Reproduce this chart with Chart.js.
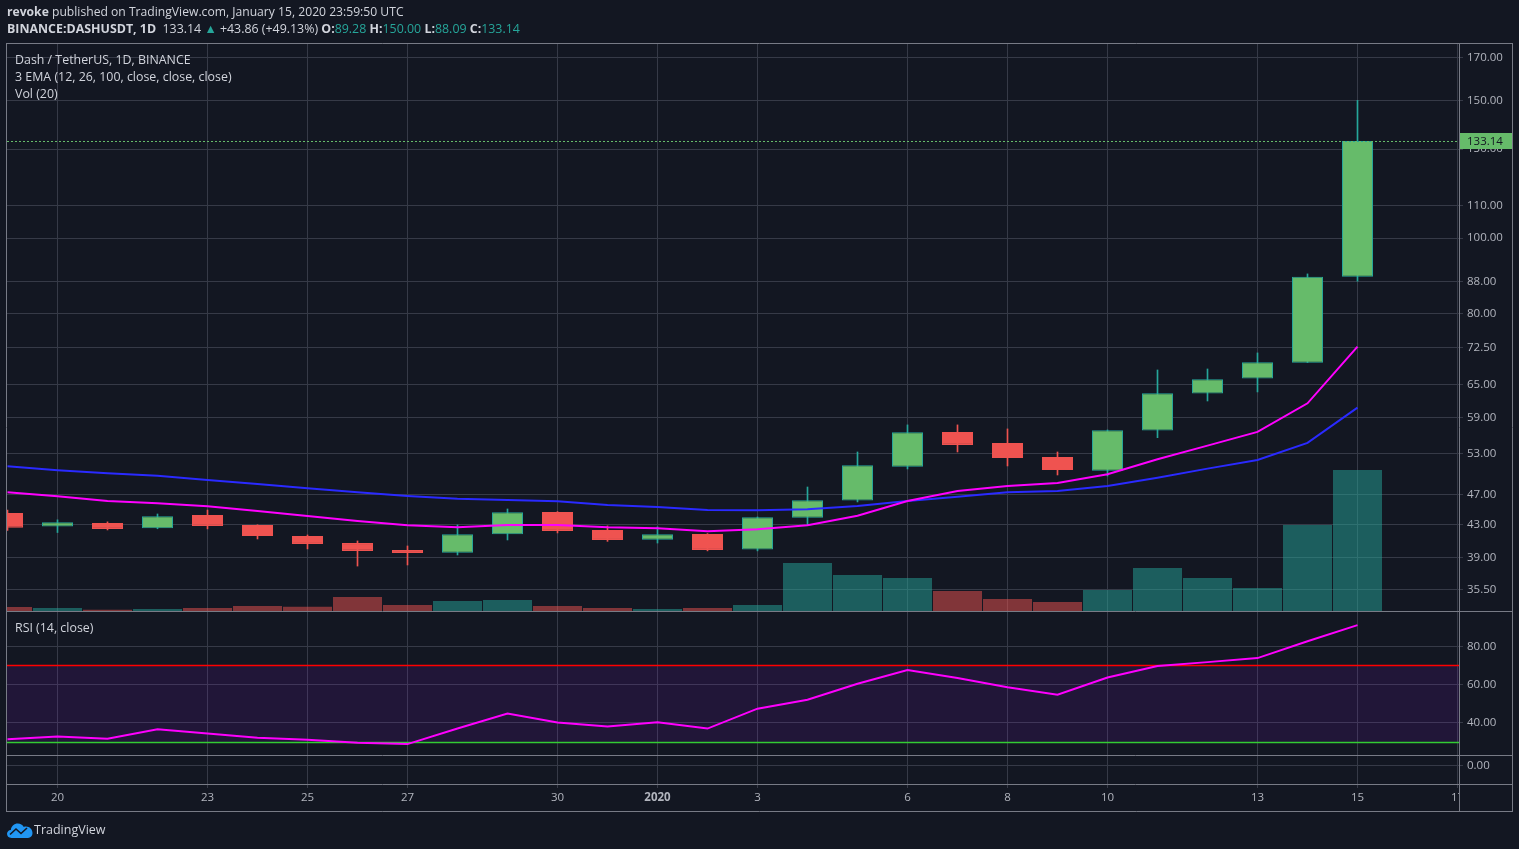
<!DOCTYPE html>
<html><head><meta charset="utf-8">
<script src="https://cdn.jsdelivr.net/npm/chart.js@4.4.1/dist/chart.umd.min.js"></script>
<style>
html,body{margin:0;padding:0;background:#131722;width:1519px;height:849px;overflow:hidden;font-family:'Open Sans',sans-serif;}
#c{position:absolute;left:0;top:0;}
.t{position:absolute;white-space:nowrap;font-size:12.4px;line-height:16px;color:#d1d4dc;}
.teal{color:#26a69a}
</style></head><body>
<canvas id="c" width="1519" height="849"></canvas>
<div class="t" style="left:7px;top:4px;font-size:12.15px"><b>revoke</b> published on TradingView.com, January 15, 2020 23:59:50 UTC</div>
<div class="t" id="quote" style="left:7px;top:21px"></div>
<div class="t" style="left:15px;top:52px">Dash / TetherUS, 1D, BINANCE</div>
<div class="t" style="left:15px;top:69px">3 EMA (12, 26, 100, close, close, close)</div>
<div class="t" style="left:15px;top:86px">Vol (20)</div>
<div class="t" style="left:15px;top:620px">RSI (14, close)</div>
<svg width="26" height="16" viewBox="0 0 26 16" style="position:absolute;left:7px;top:822px">
<path d="M4.5 16 C1.5 16 0 14 0 11.8 C0 9.6 1.6 8 3.8 7.9 C4.3 4.2 7.2 1.5 10.8 1.5 C13.4 1.5 15.6 2.9 16.8 5 C17.5 4.7 18.2 4.6 19 4.6 C22.6 4.6 25.5 7.5 25.5 11.1 C25.5 13.8 23.6 16 21 16 Z" fill="#2196f3"/>
<polyline points="3,12.5 9,7 14,11.5 20,6" fill="none" stroke="#131722" stroke-width="1.6"/>
</svg>
<div class="t" style="left:34px;top:822px;font-size:12.5px">TradingView</div>
<script>
// ---------- data ----------
const DAYS = ['2019-12-19','2019-12-20','2019-12-21','2019-12-22','2019-12-23','2019-12-24','2019-12-25',
  '2019-12-26','2019-12-27','2019-12-28','2019-12-29','2019-12-30','2019-12-31','2020-01-01','2020-01-02',
  '2020-01-03','2020-01-04','2020-01-05','2020-01-06','2020-01-07','2020-01-08','2020-01-09','2020-01-10',
  '2020-01-11','2020-01-12','2020-01-13','2020-01-14','2020-01-15'];
const OPEN  = [44.52,42.77,43.24,42.56,44.26,42.98,41.60,40.75,39.93,39.61,41.82,44.65,42.35,41.16,41.86,
  39.97,43.91,46.17,51.02,56.52,54.72,52.51,50.42,56.74,63.27,66.13,69.31,89.28];
const HIGH  = [44.90,43.63,43.37,44.39,44.91,43.00,41.73,41.00,40.40,42.98,45.05,44.70,42.86,42.74,41.90,
  44.00,48.06,53.28,57.70,57.70,57.02,53.28,56.85,67.83,68.03,71.32,90.00,150.00];
const LOW   = [42.30,42.03,42.35,42.50,42.48,41.24,40.05,38.08,38.20,39.34,41.12,41.98,40.95,40.75,39.82,
  39.82,42.98,45.99,50.68,53.28,51.13,49.79,49.64,55.57,61.91,63.58,69.31,88.09];
const CLOSE = [42.64,43.33,42.48,44.10,42.86,41.60,40.64,39.82,39.58,41.82,44.61,42.23,41.12,41.82,39.93,
  43.97,46.22,51.24,56.47,54.40,52.34,50.52,56.80,63.34,66.02,69.39,89.28,133.14];
const VOLUME = [40,30,12,20,30,50,42,140,60,100,110,50,30,20,30,60,480,360,330,200,120,90,210,430,330,230,860,1410];
const EMA12 = [47.31,46.77,46.12,45.82,45.41,44.78,44.13,43.48,42.94,42.69,42.98,42.98,42.69,42.57,42.19,
  42.44,42.94,44.17,46.12,47.50,48.21,48.64,49.89,52.15,54.29,56.52,61.49,72.66];
const EMA26 = [51.08,50.49,50.05,49.69,49.07,48.49,47.88,47.31,46.81,46.44,46.26,46.08,45.58,45.31,44.91,
  44.87,45.01,45.45,46.12,46.71,47.31,47.50,48.21,49.40,50.73,52.04,54.72,60.70];
const RSI = [31.4,32.9,31.7,36.6,34.4,32.2,31.2,29.6,28.9,37.0,44.9,40.2,38.1,40.3,37.0,
  47.4,52.1,60.4,67.6,63.4,58.6,54.7,63.7,69.7,71.7,73.8,82.6,91.0];
const PRICE_TICKS = [35.5,39,43,47,53,59,65,72.5,80,88,100,110,130,150,170];
const RSI_TICKS = [40,60,80];
const LOWER_TICKS = [0];
const TIME_TICK_DATES = ['2019-12-20','2019-12-23','2019-12-25','2019-12-27','2019-12-30','2020-01-01',
  '2020-01-03','2020-01-06','2020-01-08','2020-01-10','2020-01-13','2020-01-15','2020-01-17'];
const TIME_TICK_LABELS = ['20','23','25','27','30','2020','3','6','8','10','13','15','17'];
const RSI_UPPER = 70, RSI_LOWER = 30;

// ---------- view settings ----------
const BG = '#131722', GRID = '#363a47', FRAME = '#787b86', TEXT = '#b2b5be';
const UP = '#66bb6a', UP_EDGE = '#26a69a', DOWN = '#ef5350';
const MAIN_W = 567, RSI_W = 144, LOW_W = 29;
const PRICE_MIN = 33.36, PRICE_MAX = 177.1;
const RSI_MIN = 23.2, RSI_MAX = 98.4;
const VOL_FRACTION = 0.2487;
const AXIS_W = 53;

const dayIndex = d => Math.round((Date.parse(d) - Date.parse(DAYS[0])) / 86400000);
const TIME_TICK_IDX = TIME_TICK_DATES.map(dayIndex);
const X_MIN = -0.01, X_MAX = dayIndex('2020-01-17') + 0.03;
const VOL_MAX = Math.max(...VOLUME) / VOL_FRACTION;
const VOL_MIN = -VOL_MAX * (RSI_W + LOW_W) / MAIN_W;
const isUp = i => CLOSE[i] >= OPEN[i];
const n = DAYS.length;

// quote line
(function(){
  const last = n - 1, prev = CLOSE[last - 1], ch = CLOSE[last] - prev;
  const f = v => v.toFixed(2);
  document.getElementById('quote').innerHTML =
    '<b>BINANCE:DASHUSDT, 1D</b>&nbsp; ' + f(CLOSE[last]) + ' <span class="teal">\u25B2</span> +' + f(ch) +
    ' (+' + f(ch / prev * 100) + '%) <b>O:</b><span class="teal">' + f(OPEN[last]) + '</span> <b>H:</b><span class="teal">' +
    f(HIGH[last]) + '</span> <b>L:</b><span class="teal">' + f(LOW[last]) + '</span> <b>C:</b><span class="teal">' + f(CLOSE[last]) + '</span>';
})();

const panePlugin = {
  id: 'panes',
  beforeDatasetsDraw(chart) {
    const {ctx, chartArea: a, scales} = chart;
    const yU = scales.rsi.getPixelForValue(RSI_UPPER), yL = scales.rsi.getPixelForValue(RSI_LOWER);
    ctx.save();
    ctx.fillStyle = 'rgba(153,21,255,0.1)';
    ctx.fillRect(a.left, yU, a.right - a.left, yL - yU);
    ctx.lineWidth = 1.3;
    ctx.strokeStyle = '#ff0000';
    ctx.beginPath(); ctx.moveTo(a.left, Math.round(yU) + 0.5); ctx.lineTo(a.right, Math.round(yU) + 0.5); ctx.stroke();
    ctx.strokeStyle = '#33cc33';
    ctx.beginPath(); ctx.moveTo(a.left, Math.round(yL) + 0.5); ctx.lineTo(a.right, Math.round(yL) + 0.5); ctx.stroke();
    ctx.restore();
  },
  afterDatasetsDraw(chart) {
    const {ctx, chartArea: a, scales} = chart;
    const y = Math.round(scales.price.getPixelForValue(CLOSE[n - 1])) + 0.5;
    ctx.save();
    ctx.strokeStyle = UP; ctx.lineWidth = 1; ctx.setLineDash([2, 2]);
    ctx.beginPath(); ctx.moveTo(a.left, y); ctx.lineTo(a.right, y); ctx.stroke();
    ctx.restore();
  },
  afterDraw(chart) {
    const {ctx, chartArea: a, scales} = chart;
    const p = scales.price, r = scales.rsi, x = scales.x;
    const R = p.right;
    ctx.save();
    ctx.fillStyle = BG;
    ctx.fillRect(a.right + 1, a.bottom + 1, R - a.right - 1, x.bottom - a.bottom - 1);
    const y = scales.price.getPixelForValue(CLOSE[n - 1]);
    ctx.fillStyle = UP;
    ctx.fillRect(a.right + 1, Math.round(y) - 8, R - a.right - 1, 16);
    ctx.fillStyle = '#131722';
    ctx.font = '11.5px "Open Sans"';
    ctx.textBaseline = 'middle';
    ctx.fillText(CLOSE[n - 1].toFixed(2), a.right + 8, Math.round(y) + 0.5);
    ctx.strokeStyle = FRAME; ctx.lineWidth = 1;
    const h = (yy, x0, x1) => { ctx.beginPath(); ctx.moveTo(x0, Math.floor(yy) + 0.5); ctx.lineTo(x1, Math.floor(yy) + 0.5); ctx.stroke(); };
    const v = (xx, y0, y1) => { ctx.beginPath(); ctx.moveTo(Math.floor(xx) + 0.5, y0); ctx.lineTo(Math.floor(xx) + 0.5, y1); ctx.stroke(); };
    const top = a.top - 1, bot = x.bottom - 1;
    h(top, a.left - 1, R + 1);
    h(bot, a.left - 1, R + 1);
    h(p.bottom, a.left - 1, R);
    h(r.bottom, a.left - 1, R);
    h(a.bottom, a.left - 1, R);
    v(a.left - 1, top, bot + 1);
    v(a.right, top, bot + 1);
    v(R, top, bot + 1);
    ctx.restore();
  }
};

const tickFont = {size: 11.5, family: '"Open Sans"'};

new Chart(document.getElementById('c'), {
  type: 'bar',
  data: {
    datasets: [
      { type: 'bar', label: 'Volume', yAxisID: 'vol', order: 10, grouped: false,
        data: VOLUME.map((v, i) => ({x: i, y: v})),
        backgroundColor: VOLUME.map((v, i) => isUp(i) ? 'rgba(38,166,154,0.5)' : 'rgba(239,83,80,0.5)'),
        barPercentage: 0.98, categoryPercentage: 1 },
      { type: 'bar', label: 'Wick', yAxisID: 'price', order: 6, grouped: false,
        data: DAYS.map((d, i) => ({x: i, y: [LOW[i], HIGH[i]]})),
        backgroundColor: DAYS.map((d, i) => isUp(i) ? UP_EDGE : DOWN),
        barThickness: 1 },
      { type: 'bar', label: 'Body', yAxisID: 'price', order: 5, grouped: false,
        data: DAYS.map((d, i) => ({x: i, y: [OPEN[i], CLOSE[i]]})),
        backgroundColor: DAYS.map((d, i) => isUp(i) ? UP : DOWN),
        borderColor: DAYS.map((d, i) => isUp(i) ? UP_EDGE : DOWN),
        borderWidth: 1, borderSkipped: false,
        barPercentage: 0.62, categoryPercentage: 1 },
      { type: 'line', label: 'EMA 26', yAxisID: 'price', order: 2,
        data: EMA26.map((v, i) => ({x: i, y: v})),
        borderColor: '#2a2aff', borderWidth: 2, pointRadius: 0, tension: 0 },
      { type: 'line', label: 'EMA 12', yAxisID: 'price', order: 1,
        data: EMA12.map((v, i) => ({x: i, y: v})),
        borderColor: '#ff00ff', borderWidth: 2, pointRadius: 0, tension: 0 },
      { type: 'line', label: 'RSI', yAxisID: 'rsi', order: 1,
        data: RSI.map((v, i) => ({x: i, y: v})),
        borderColor: '#ff00ff', borderWidth: 2, pointRadius: 0, tension: 0 }
    ]
  },
  options: {
    responsive: false, animation: false, events: [],
    layout: {padding: {left: 7, top: 44, right: 7, bottom: 37}},
    plugins: {legend: {display: false}, tooltip: {enabled: false}},
    scales: {
      x: {
        type: 'linear', position: 'bottom', min: X_MIN, max: X_MAX, bounds: 'data', offset: false,
        afterBuildTicks: s => { s.ticks = TIME_TICK_IDX.map(v => ({value: v})); },
        afterFit: s => { s.height = 28; },
        grid: {color: GRID, tickLength: 4, offset: false},
        border: {display: false},
        ticks: {
          autoSkip: false, maxRotation: 0, padding: 3, color: TEXT,
          font: ctx => {
            const k = ctx.tick ? TIME_TICK_IDX.indexOf(ctx.tick.value) : -1;
            return Object.assign({}, tickFont, {weight: TIME_TICK_LABELS[k] === '2020' ? 'bold' : 'normal'});
          },
          callback: v => { const k = TIME_TICK_IDX.indexOf(v); return k >= 0 ? TIME_TICK_LABELS[k] : ''; }
        }
      },
      price: {
        type: 'logarithmic', axis: 'y', position: 'right', stack: 'panes', stackWeight: MAIN_W, weight: 1,
        min: PRICE_MIN, max: PRICE_MAX, bounds: 'data',
        afterBuildTicks: s => { s.ticks = PRICE_TICKS.map(v => ({value: v})); },
        afterFit: s => { s.width = AXIS_W; },
        grid: {color: GRID, tickLength: 4},
        border: {display: false},
        ticks: {autoSkip: false, padding: 4, color: TEXT, font: tickFont, callback: v => Number(v).toFixed(2)}
      },
      rsi: {
        type: 'linear', axis: 'y', position: 'right', stack: 'panes', stackWeight: RSI_W, weight: 2,
        min: RSI_MIN, max: RSI_MAX, bounds: 'data',
        afterBuildTicks: s => { s.ticks = RSI_TICKS.map(v => ({value: v})); },
        afterFit: s => { s.width = AXIS_W; },
        grid: {color: GRID, tickLength: 4},
        border: {display: false},
        ticks: {autoSkip: false, padding: 4, color: TEXT, font: tickFont, callback: v => Number(v).toFixed(2)}
      },
      lower: {
        type: 'linear', axis: 'y', position: 'right', stack: 'panes', stackWeight: LOW_W, weight: 3,
        min: -1, max: 0.611, bounds: 'data',
        afterBuildTicks: s => { s.ticks = LOWER_TICKS.map(v => ({value: v})); },
        afterFit: s => { s.width = AXIS_W; },
        grid: {color: GRID, tickLength: 4},
        border: {display: false},
        ticks: {autoSkip: false, padding: 4, color: TEXT, font: tickFont, callback: v => Number(v).toFixed(2)}
      },
      vol: {
        type: 'linear', axis: 'y', position: 'left', display: false, min: VOL_MIN, max: VOL_MAX, bounds: 'data'
      }
    }
  },
  plugins: [panePlugin]
});
</script>
</body></html>
